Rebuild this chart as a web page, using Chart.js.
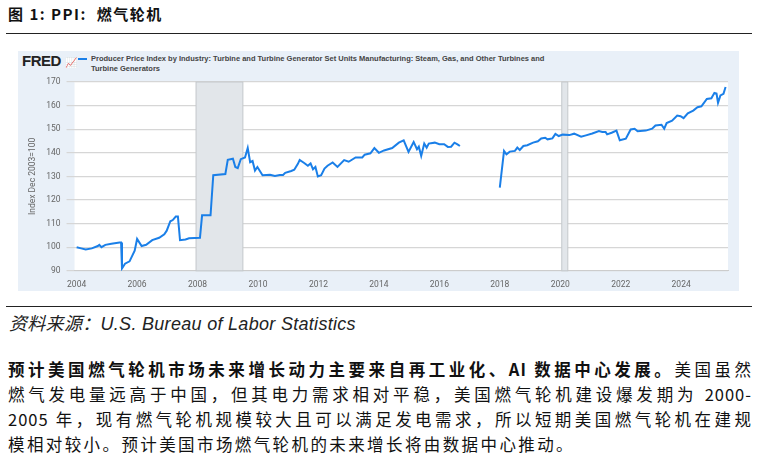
<!DOCTYPE html>
<html><head><meta charset="utf-8">
<script src="https://cdn.jsdelivr.net/npm/chart.js@4"></script>
<style>
body{margin:0;width:758px;height:464px;background:#fff;position:relative;font-family:"Noto Sans CJK SC","Liberation Sans",sans-serif;overflow:hidden}
#title{position:absolute;left:8px;top:3px;font-size:15px;font-weight:bold;color:#111;letter-spacing:1.5px}
.hr{position:absolute;left:6px;width:746px;height:1px;background:#222}
#box{position:absolute;left:18px;top:51px;width:721px;height:240px;background:#e9f0f8}
#logo{position:absolute;left:22px;top:52px;font:bold 15px "Liberation Sans",Arial;color:#222;letter-spacing:-0.5px}
#leg{position:absolute;left:78px;top:54px;font:bold 7.5px "Liberation Sans",Arial;color:#444;line-height:10px}
#leg .sw{display:inline-block;width:9px;height:2px;background:#1a7fe8;vertical-align:middle;margin-right:4px}
#cv{position:absolute;left:18px;top:70px}
#src{position:absolute;left:9px;top:309px;font-size:18px;font-style:italic;color:#222;font-family:"Liberation Sans","Noto Sans CJK SC";letter-spacing:0.3px}
#para{position:absolute;left:8px;top:357px;width:744px;font-size:16.5px;line-height:25px;color:#111}
#para div{text-align:justify;text-align-last:justify;white-space:nowrap;height:25px}
#para div.last{text-align-last:left;letter-spacing:2.4px}
</style></head><body>
<div id="title">图 1: PPI:&nbsp; 燃气轮机</div>
<div class="hr" style="top:33px"></div>
<div id="box"></div>
<div id="logo">FRED <span style="font-size:10px;color:#6aa0d8">📈</span></div>
<div id="leg"><span class="sw"></span>Producer Price Index by Industry: Turbine and Turbine Generator Set Units Manufacturing: Steam, Gas, and Other Turbines and<br><span style="margin-left:13px">Turbine Generators</span></div>
<canvas id="cv" width="721" height="221" style="width:721px;height:221px"></canvas>
<div class="hr" style="top:306px"></div>
<div id="src">资料来源：U.S. Bureau of Labor Statistics</div>
<div id="para">
<div style="letter-spacing:1px"><b>预计美国燃气轮机市场未来增长动力主要来自再工业化、AI 数据中心发展。</b>美国虽然</div>
<div style="letter-spacing:1px">燃气发电量远高于中国，但其电力需求相对平稳，美国燃气轮机建设爆发期为 2000-</div>
<div style="letter-spacing:1px">2005 年，现有燃气轮机规模较大且可以满足发电需求，所以短期美国燃气轮机在建规</div>
<div class="last">模相对较小。预计美国市场燃气轮机的未来增长将由数据中心推动。</div>
</div>
<script>
const years=[2004.0,2004.15,2004.3,2004.5,2004.7,2004.75,2004.82,2004.95,2005.15,2005.42,2005.47,2005.5,2005.6,2005.75,2005.92,2006.0,2006.15,2006.3,2006.5,2006.73,2006.9,2006.98,2007.1,2007.18,2007.28,2007.35,2007.42,2007.6,2007.72,2008.08,2008.15,2008.43,2008.52,2008.92,2009.0,2009.17,2009.25,2009.33,2009.43,2009.57,2009.66,2009.74,2009.82,2009.9,2009.98,2010.15,2010.4,2010.56,2010.72,2010.83,2010.9,2011.1,2011.2,2011.32,2011.38,2011.54,2011.65,2011.74,2011.82,2011.9,2011.98,2012.09,2012.2,2012.3,2012.47,2012.63,2012.85,2013.0,2013.23,2013.45,2013.53,2013.72,2013.85,2014.0,2014.17,2014.44,2014.66,2014.82,2014.98,2015.15,2015.26,2015.32,2015.4,2015.5,2015.58,2015.65,2015.85,2016.0,2016.16,2016.28,2016.39,2016.5,2016.6,2016.68,2017.3,2018.0,2018.14,2018.22,2018.33,2018.5,2018.58,2018.66,2018.78,2018.91,2019.1,2019.26,2019.37,2019.5,2019.58,2019.74,2019.84,2019.95,2020.08,2020.3,2020.46,2020.69,2020.85,2021.06,2021.28,2021.39,2021.5,2021.55,2021.7,2021.86,2021.97,2022.17,2022.33,2022.46,2022.56,2022.83,2023.04,2023.15,2023.35,2023.44,2023.52,2023.7,2023.87,2023.98,2024.08,2024.22,2024.4,2024.54,2024.67,2024.85,2025.0,2025.1,2025.17,2025.22,2025.3,2025.4,2025.47];
const values=[100,99.5,99,99.5,100.5,101,100,101,101.5,102,102,91,93,94,98.5,103.5,100.5,101,103,104,105.5,107,111,111.5,113,113,103,103.3,103.8,104,113.5,113.5,130.5,131,137,137.5,134,133.5,137.3,138,142,136,136.5,132.5,134,130.5,130.7,130.2,130.6,130.6,131.5,132.3,132.8,135.3,137,135.6,134.5,135.5,133,134,130,130.5,133.3,134.5,135.9,134,136.9,136.2,138,138,139.2,139.8,142,140,141,142,144.3,145.3,140.4,144.6,141.5,142.6,138.7,143.9,142.2,143.9,144.3,143.6,143.6,142.5,142.6,144.3,143.6,142.9,null,125.2,140.8,139.4,140.5,140.8,142.2,141.2,142.9,143.2,144.3,144.9,146.1,146.4,145.7,146.1,148,147.1,147.7,147.5,148.1,146.8,147.4,148.2,149.2,148.8,148.8,147.8,148.5,149.4,145.3,146,149.9,150.2,149.1,149.4,150.2,151.6,151.9,150.2,152.6,153.6,155.8,155.5,154.7,156.7,157.9,159.3,159.7,162.8,163.1,165.4,165.1,161.2,164.3,165,167.9];
const recessions=[[2007.95,2009.5],[2020.05,2020.25]];
const yTicks=[90,100,110,120,130,140,150,160,170];
const xTicks=[2004,2006,2008,2010,2012,2014,2016,2018,2020,2022,2024];
const pts=years.map((x,i)=>({x,y:values[i]}));
const shade={id:'shade',beforeDatasetsDraw(c){const{ctx,chartArea:a,scales:{x}}=c;ctx.save();ctx.fillStyle='#e2e6ea';ctx.strokeStyle='#c4c8cc';ctx.lineWidth=1;
 for(const[s,e]of recessions){const l=x.getPixelForValue(s),r=x.getPixelForValue(e);ctx.fillRect(l,a.top,r-l,a.bottom-a.top);ctx.strokeRect(l,a.top,r-l,a.bottom-a.top);}ctx.restore();},
 beforeDraw(c){const{ctx,chartArea:a}=c;ctx.save();ctx.fillStyle='#fff';ctx.fillRect(a.left,a.top,a.right-a.left,a.bottom-a.top);ctx.restore();}};
new Chart(document.getElementById('cv'),{type:'line',
 data:{datasets:[{data:pts,borderColor:'#1a7fe8',borderWidth:2,pointRadius:0,spanGaps:false,tension:0}]},
 options:{responsive:false,animation:false,layout:{padding:{top:12,right:11,left:8,bottom:0}},
  plugins:{legend:{display:false},tooltip:{enabled:false}},
  scales:{
   x:{type:'linear',min:2003.93,max:2025.55,afterBuildTicks(s){s.ticks=xTicks.map(v=>({value:v}));},
      grid:{display:false},border:{color:'#ccc'},ticks:{color:'#666',font:{size:8.5,family:'Roboto'},callback:v=>String(v),maxRotation:0,autoSkip:false,padding:1}},
   y:{min:90,max:170,afterBuildTicks(s){s.ticks=yTicks.map(v=>({value:v}));},
      grid:{color:'#d6d6d6',lineWidth:1.2},border:{display:false},
      ticks:{color:'#666',font:{size:8.5,family:'Roboto'},padding:6},
      title:{display:true,text:'Index Dec 2003=100',color:'#666',font:{size:8.5,family:'Roboto'},padding:2}}}},
 plugins:[shade]});
</script></body></html>
